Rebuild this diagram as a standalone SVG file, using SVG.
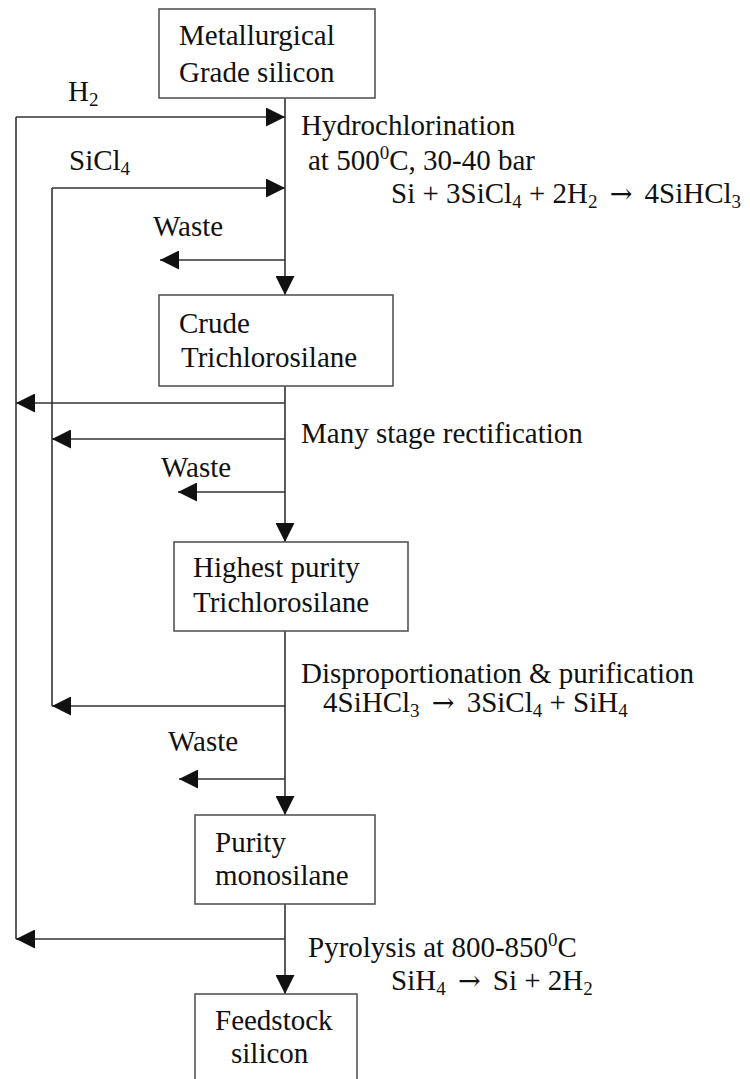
<svg xmlns="http://www.w3.org/2000/svg" width="750" height="1079" viewBox="0 0 750 1079">
<style>
text{font-family:"Liberation Serif","Times New Roman",serif;font-size:29px;fill:#111}
.box{fill:#fff;stroke:#555;stroke-width:1.6}
.ln{stroke:#333;stroke-width:1.6;fill:none}
.s{font-size:19px}
.ar{font-family:"DejaVu Serif",serif;font-size:27px}
</style>
<defs>
<marker id="ah" markerUnits="userSpaceOnUse" markerWidth="19" markerHeight="19" refX="19" refY="9.5" orient="auto" viewBox="0 0 19 19">
<path d="M0,0 L19,9.5 L0,19 Z" fill="#111"/>
</marker>
</defs>
<rect width="750" height="1079" fill="#fff"/>
<g id="connectors">
<line class="ln" x1="285" y1="98" x2="285" y2="295" marker-end="url(#ah)"/>
<line class="ln" x1="285" y1="386" x2="285" y2="542" marker-end="url(#ah)"/>
<line class="ln" x1="285" y1="631" x2="285" y2="815" marker-end="url(#ah)"/>
<line class="ln" x1="285" y1="904" x2="285" y2="994" marker-end="url(#ah)"/>
<line class="ln" x1="16" y1="117" x2="285" y2="117" marker-end="url(#ah)"/>
<line class="ln" x1="16" y1="117" x2="16" y2="939"/>
<line class="ln" x1="285" y1="939" x2="16" y2="939" marker-end="url(#ah)"/>
<line class="ln" x1="285" y1="403" x2="16" y2="403" marker-end="url(#ah)"/>
<line class="ln" x1="52" y1="188" x2="285" y2="188" marker-end="url(#ah)"/>
<line class="ln" x1="52" y1="188" x2="52" y2="706"/>
<line class="ln" x1="285" y1="439" x2="52" y2="439" marker-end="url(#ah)"/>
<line class="ln" x1="285" y1="706" x2="52" y2="706" marker-end="url(#ah)"/>
<line class="ln" x1="285" y1="260" x2="160" y2="260" marker-end="url(#ah)"/>
<line class="ln" x1="285" y1="492" x2="178" y2="492" marker-end="url(#ah)"/>
<line class="ln" x1="285" y1="779" x2="179" y2="779" marker-end="url(#ah)"/>
</g>
<g id="labels">
<text x="68" y="101">H<tspan class="s" dy="5">2</tspan></text>
<text x="69" y="170">SiCl<tspan class="s" dy="5">4</tspan></text>
<text x="153" y="236">Waste</text>
<text x="161" y="477">Waste</text>
<text x="168" y="751">Waste</text>
<text x="301" y="135">Hydrochlorination</text>
<text x="308" y="170">at 500<tspan class="s" dy="-11">0</tspan><tspan dy="11">C, 30-40 bar</tspan></text>
<text x="391" y="203">Si + 3SiCl<tspan class="s" dy="5">4</tspan><tspan dy="-5"> + 2H</tspan><tspan class="s" dy="5">2</tspan><tspan dy="-5"> </tspan><tspan class="ar" dx="5">→</tspan><tspan dx="5"> 4SiHCl</tspan><tspan class="s" dy="5">3</tspan></text>
<text x="301" y="443">Many stage rectification</text>
<text x="301" y="683">Disproportionation &amp; purification</text>
<text x="323" y="712">4SiHCl<tspan class="s" dy="5">3</tspan><tspan dy="-5"> </tspan><tspan class="ar" dx="5">→</tspan><tspan dx="5"> 3SiCl</tspan><tspan class="s" dy="5">4</tspan><tspan dy="-5"> + SiH</tspan><tspan class="s" dy="5">4</tspan></text>
<text x="308" y="957">Pyrolysis at 800-850<tspan class="s" dy="-11">0</tspan><tspan dy="11">C</tspan></text>
<text x="391" y="990">SiH<tspan class="s" dy="5">4</tspan><tspan dy="-5"> </tspan><tspan class="ar" dx="5">→</tspan><tspan dx="5"> Si + 2H</tspan><tspan class="s" dy="5">2</tspan></text>
</g>
<g id="n1">
<rect class="box" x="159" y="9" width="216" height="89"/>
<text x="179" y="45">Metallurgical</text>
<text x="179" y="82">Grade silicon</text>
</g>
<g id="n2">
<rect class="box" x="159" y="295" width="234" height="91"/>
<text x="179" y="333">Crude</text>
<text x="181" y="367">Trichlorosilane</text>
</g>
<g id="n3">
<rect class="box" x="174" y="542" width="234" height="89"/>
<text x="193" y="577">Highest purity</text>
<text x="193" y="612">Trichlorosilane</text>
</g>
<g id="n4">
<rect class="box" x="195" y="815" width="180" height="89"/>
<text x="215" y="852">Purity</text>
<text x="215" y="885">monosilane</text>
</g>
<g id="n5">
<rect class="box" x="195" y="994" width="162" height="100"/>
<text x="215" y="1030">Feedstock</text>
<text x="231" y="1063">silicon</text>
</g>
</svg>
